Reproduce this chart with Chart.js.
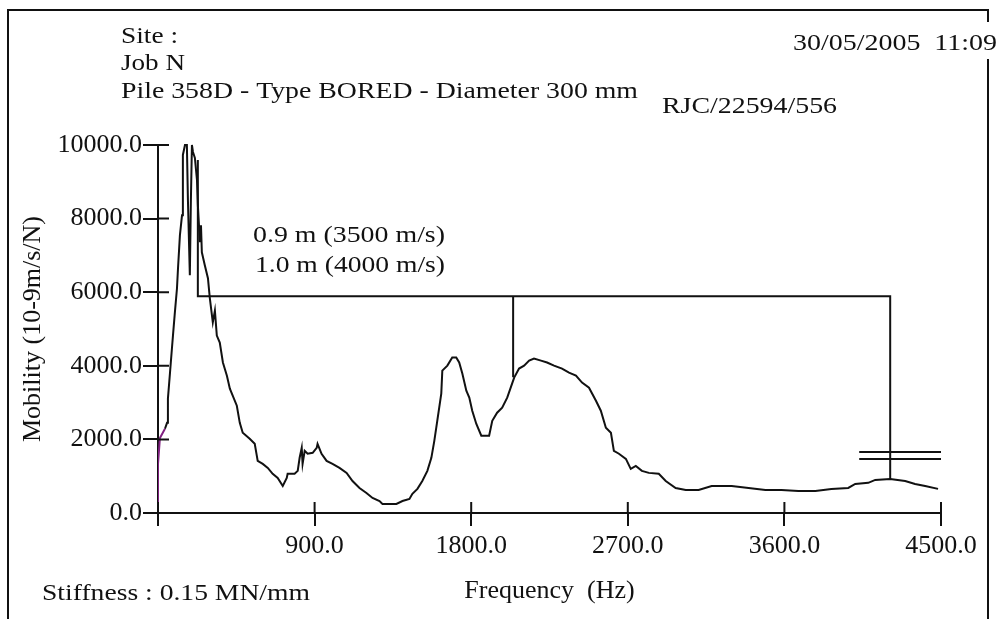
<!DOCTYPE html>
<html>
<head>
<meta charset="utf-8">
<title>Mobility vs Frequency</title>
<script src="https://cdn.jsdelivr.net/npm/chart.js@4/dist/chart.umd.min.js"></script>
<style>
    html, body { margin: 0; padding: 0; background: #fff; }
    #chart { display: block; }
</style>
</head>
<body>
<canvas id="chart" width="999" height="619"></canvas>
<script>
// first few samples (drawn in purple on the original trace)
const startFreq = [0, 0, 11, 40];
const startMob = [0, 1335, 2040, 2290];

// mobility curve, Hz / 10-9 m/s/N
const curveFreq = [
    40, 52, 57, 69, 80, 86, 97, 109, 115, 126, 138, 143, 155, 166, 172, 183, 189, 195,
    201, 212, 224, 229, 241, 247, 252, 269, 287, 298, 315, 327, 338, 355, 373, 396,
    413, 453, 470, 487, 527, 556, 573, 602, 631, 659, 688, 717, 740, 745, 785, 803,
    814, 826, 831, 843, 860, 889, 912, 917, 940, 969, 1003, 1043, 1084, 1118, 1158,
    1198, 1233, 1273, 1290, 1370, 1405, 1445, 1462, 1491, 1519, 1548, 1571, 1588,
    1605, 1628, 1634, 1663, 1691, 1714, 1731, 1749, 1772, 1789, 1806, 1829, 1858,
    1903, 1921, 1949, 1978, 2007, 2035, 2047, 2075, 2104, 2133, 2161, 2201, 2236,
    2276, 2322, 2362, 2402, 2437, 2477, 2517, 2545, 2574, 2603, 2620, 2649, 2689,
    2717, 2746, 2781, 2821, 2878, 2918, 2975, 3033, 3107, 3182, 3297, 3394, 3491,
    3583, 3680, 3778, 3870, 3967, 4007, 4082, 4122, 4208, 4294, 4351, 4409, 4483
];
const curveMob = [
    2290, 2450, 3110, 3815, 4470, 4820, 5450, 6100, 6650, 7550, 8090, 9730, 10000, 10000, 8500, 6460, 8500, 10000,
    9810, 9650, 9050, 8370, 7360, 7820, 7085, 6730, 6380, 5830, 5180, 5500, 4820, 4630, 4090, 3730,
    3380, 2915, 2450, 2180, 2015, 1880, 1415, 1335, 1225, 1065, 955, 735, 955, 1065, 1065, 1145,
    1500, 1770, 1335, 1690, 1610, 1635, 1770, 1880, 1610, 1415, 1335, 1225, 1090, 870, 680,
    545, 410, 325, 245, 245, 325, 380, 520, 655, 870, 1145, 1500, 1960,
    2505, 3245, 3870, 4005, 4225, 4225, 4090, 3790, 3325, 3135, 2780, 2425, 2100,
    2100, 2505, 2725, 2860, 3135, 3515, 3680, 3925, 4005, 4140, 4195, 4140, 4090,
    4005, 3925, 3815, 3735, 3545, 3405, 3050, 2780, 2315, 2180, 1690, 1610, 1470,
    1200, 1280, 1145, 1090, 1065, 870, 680, 625, 625, 735, 735, 680, 625,
    625, 600, 600, 655, 680, 790, 820, 900, 925, 870, 790, 735, 655
];

// resonance marker bracket
const markerFreq = [229, 229, 2041, 2041, 2041, 4208, 4208];
const markerMob = [9590, 5890, 5890, 3690, 5890, 5890, 925];

// double bar at the last marker (null breaks the line)
const barFreq = [4030, 4500, 4265, 4030, 4500];
const barMob = [1660, 1660, null, 1470, 1470];

const yTicks = [0, 2000, 4000, 6000, 8000, 10000];
const xTicks = [0, 900, 1800, 2700, 3600, 4500];

const serif = "'Liberation Serif', 'DejaVu Serif', serif";

// free text on the sheet: text, left x, baseline y, drawn width
const notes = [
    { text: "Site :", x: 121, y: 43, w: 57 },
    { text: "Job N", x: 121, y: 70, w: 64 },
    { text: "Pile 358D - Type BORED - Diameter 300 mm", x: 121, y: 98, w: 517 },
    { text: "30/05/2005  11:09", x: 793, y: 50, w: 204 },
    { text: "RJC/22594/556", x: 662, y: 113, w: 175 },
    { text: "0.9 m (3500 m/s)", x: 253, y: 242, w: 192 },
    { text: "1.0 m (4000 m/s)", x: 255, y: 272, w: 190 },
    { text: "Stiffness : 0.15 MN/mm", x: 42, y: 600, w: 268 }
];

function toPoints(xs, ys) {
    return xs.map((x, i) => ({ x: x, y: ys[i] }));
}

function stretchText(ctx, text, x, y, width) {
    const w = ctx.measureText(text).width;
    ctx.save();
    ctx.translate(x, y);
    ctx.scale(width / w, 1);
    ctx.fillText(text, 0, 0);
    ctx.restore();
}

const sheetPlugin = {
    id: "sheet",
    afterDraw(chart) {
        const ctx = chart.ctx;
        const xs = chart.scales.x;
        const ys = chart.scales.y;

        ctx.save();
        ctx.strokeStyle = "#111";
        ctx.lineWidth = 2;

        // page frame, broken where the date runs over it
        ctx.beginPath();
        ctx.moveTo(8, 619);
        ctx.lineTo(8, 10);
        ctx.lineTo(988, 10);
        ctx.lineTo(988, 22);
        ctx.moveTo(988, 59);
        ctx.lineTo(988, 619);
        ctx.stroke();

        // inner halves of the tick marks
        ctx.beginPath();
        ys.ticks.forEach(t => {
            const py = ys.getPixelForValue(t.value);
            ctx.moveTo(ys.right, py);
            ctx.lineTo(ys.right + 11, py);
        });
        xs.ticks.forEach(t => {
            const px = xs.getPixelForValue(t.value);
            ctx.moveTo(px, xs.top);
            ctx.lineTo(px, xs.top - 11);
        });
        ctx.stroke();

        ctx.fillStyle = "#111";
        ctx.font = "24px " + serif;
        ctx.textBaseline = "alphabetic";
        notes.forEach(n => stretchText(ctx, n.text, n.x, n.y, n.w));
        ctx.restore();
    }
};

const tickFont = { family: serif, size: 26 };

new Chart(document.getElementById("chart"), {
    type: "line",
    data: {
        datasets: [
            {
                label: "start",
                data: toPoints(startFreq, startMob),
                borderColor: "#802080",
                borderWidth: 2
            },
            {
                label: "Mobility",
                data: toPoints(curveFreq, curveMob),
                borderColor: "#111",
                borderWidth: 2,
                clip: false
            },
            {
                label: "markers",
                data: toPoints(markerFreq, markerMob),
                borderColor: "#111",
                borderWidth: 2
            },
            {
                label: "bar",
                data: toPoints(barFreq, barMob),
                borderColor: "#111",
                borderWidth: 2,
                spanGaps: false
            }
        ]
    },
    options: {
        responsive: false,
        animation: false,
        devicePixelRatio: 1,
        parsing: false,
        elements: {
            point: { radius: 0 },
            line: { tension: 0, fill: false }
        },
        layout: {
            padding: { left: 0, top: 145, right: 58, bottom: 0 }
        },
        plugins: {
            legend: { display: false },
            tooltip: { enabled: false }
        },
        scales: {
            x: {
                type: "linear",
                min: 0,
                max: 4500,
                afterFit: scale => { scale.height = 106; },
                afterBuildTicks: scale => {
                    scale.ticks = xTicks.map(v => ({ value: v }));
                },
                border: { display: true, color: "#111", width: 2 },
                grid: {
                    drawOnChartArea: false,
                    drawTicks: true,
                    tickLength: 13,
                    color: "#111",
                    lineWidth: 2
                },
                ticks: {
                    color: "#111",
                    font: tickFont,
                    padding: 5,
                    autoSkip: false,
                    maxRotation: 0,
                    callback: v => (v === 0 ? "" : v.toFixed(1))
                },
                title: {
                    display: true,
                    text: "Frequency  (Hz)",
                    color: "#111",
                    font: { family: serif, size: 26 },
                    padding: { top: 0, bottom: 12 }
                }
            },
            y: {
                type: "linear",
                min: 0,
                max: 10000,
                afterFit: scale => { scale.width = 158; },
                afterBuildTicks: scale => {
                    scale.ticks = yTicks.map(v => ({ value: v }));
                },
                border: { display: true, color: "#111", width: 2 },
                grid: {
                    drawOnChartArea: false,
                    drawTicks: true,
                    tickLength: 15,
                    color: "#111",
                    lineWidth: 2
                },
                ticks: {
                    color: "#111",
                    font: tickFont,
                    padding: 1,
                    autoSkip: false,
                    callback: v => v.toFixed(1)
                },
                title: {
                    display: true,
                    text: "Mobility (10-9m/s/N)",
                    color: "#111",
                    font: { family: serif, size: 26 },
                    padding: { top: 18, bottom: 0 }
                }
            }
        }
    },
    plugins: [sheetPlugin]
});
</script>
</body>
</html>
